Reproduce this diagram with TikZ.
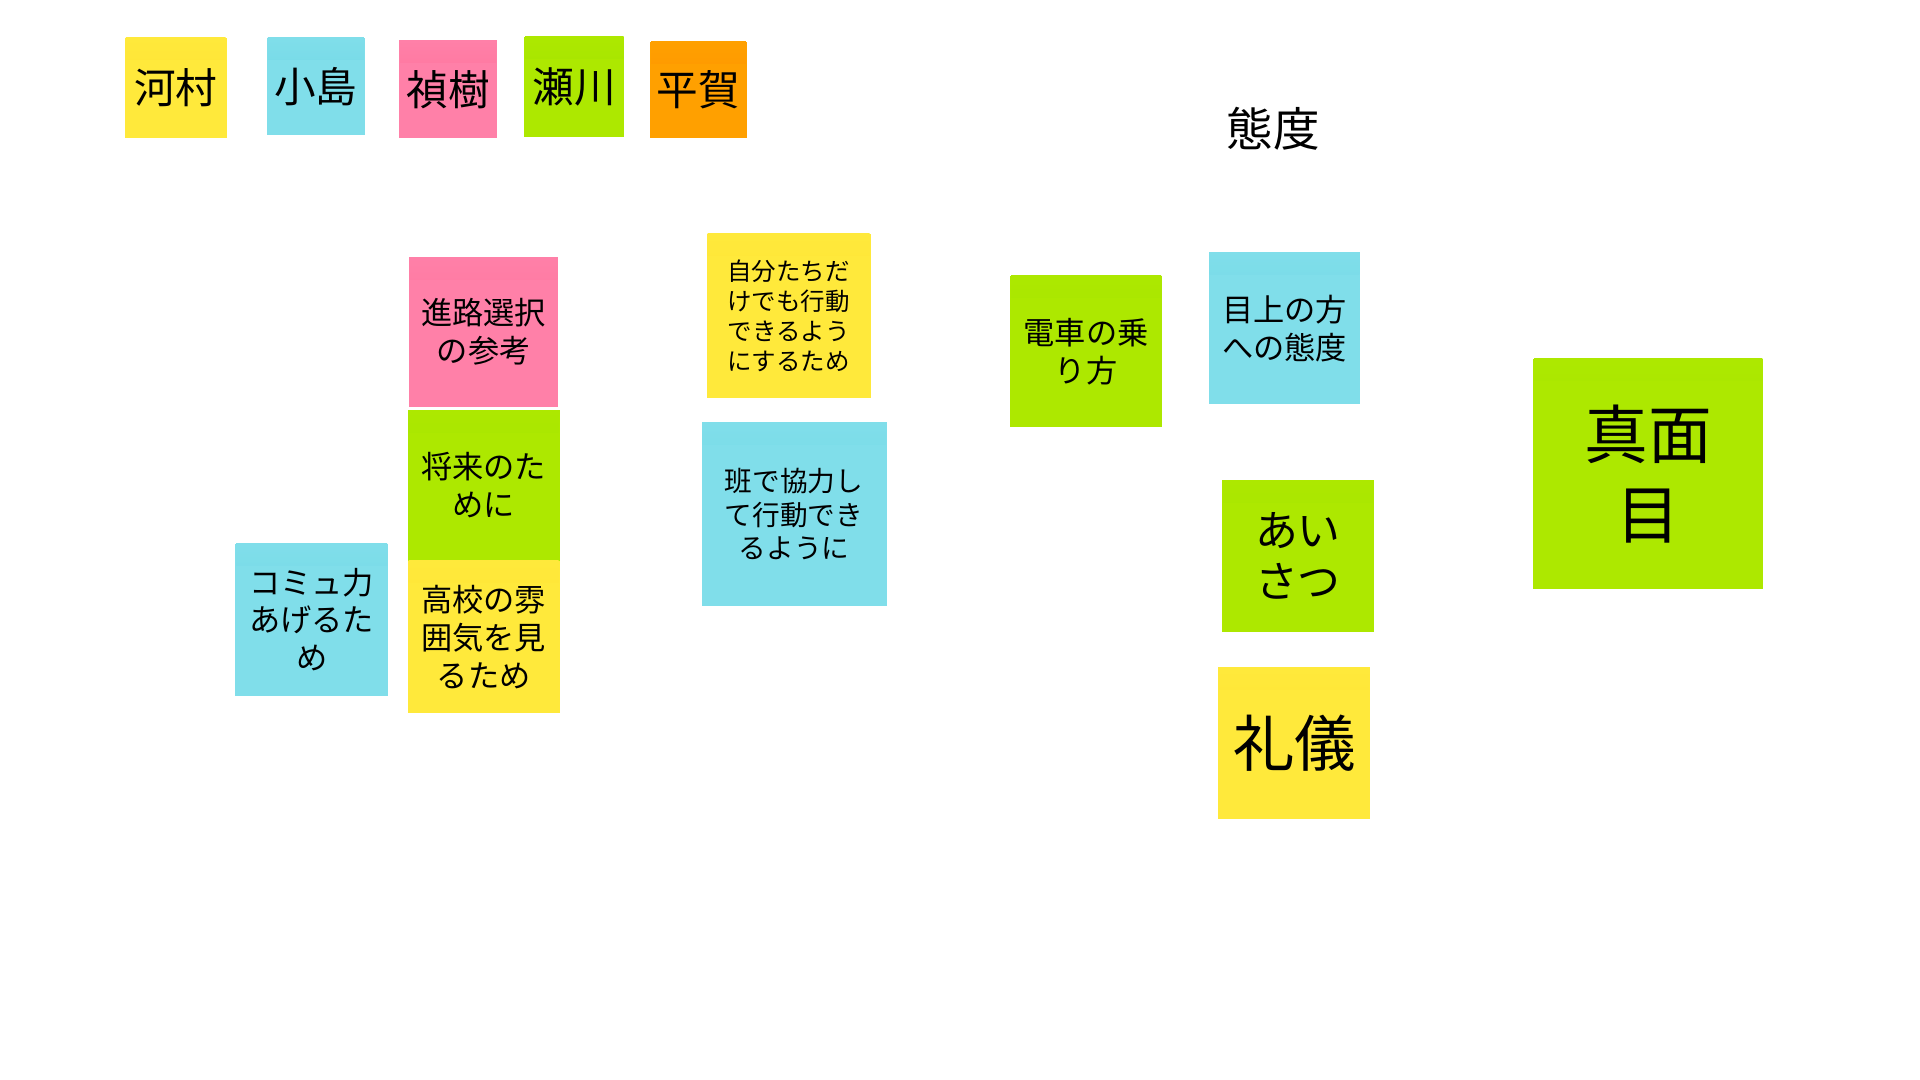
\documentclass[tikz,border=0pt]{standalone}
\usepackage{fontspec}
\setmainfont{Noto Sans CJK JP}
\definecolor{ylw}{HTML}{FFE93B}
\definecolor{ylwtop}{HTML}{FFDD2E}
\definecolor{cyn}{HTML}{80DEEA}
\definecolor{cyntop}{HTML}{62D2E2}
\definecolor{pnk}{HTML}{FF80A8}
\definecolor{pnktop}{HTML}{FF6690}
\definecolor{grn}{HTML}{ADE800}
\definecolor{grntop}{HTML}{9BE000}
\definecolor{orn}{HTML}{FFA000}
\definecolor{orntop}{HTML}{FF8A00}
\newcommand{\fsz}[2]{\fontsize{#1}{#2}\selectfont}
\begin{document}
\begin{tikzpicture}[x=1pt,y=-1pt,
    note/.style 2 args={rectangle,inner sep=0pt,align=center,fill=#1,
      path picture={\shade[top color=#1,bottom color=#2]
        ([xshift=0.8pt]path picture bounding box.north west)
        rectangle ([xshift=-0.8pt,yshift=-18pt]path picture bounding box.north east);}},
    ylwnote/.style={note={ylw}{ylwtop}},
    cynnote/.style={note={cyn}{cyntop}},
    pnknote/.style={note={pnk}{pnktop}},
    grnnote/.style={note={grn}{grntop}},
    ornnote/.style={note={orn}{orntop}}]
  \useasboundingbox[fill=white] (0,0) rectangle (1568,882);
  % names
  \begin{scope}[every node/.append style={font=\fsz{34pt}{40pt}}]
    \node[ylwnote,minimum width=83pt,minimum height=82pt] (kawamura) at (143.5,72) {河村};
    \node[cynnote,minimum width=80pt,minimum height=79pt] (kojima) at (258,70.5) {小島};
    \node[pnknote,minimum width=80pt,minimum height=80pt] (yoshiki) at (366,73) {禎樹};
    \node[grnnote,minimum width=82pt,minimum height=82pt] (segawa) at (469,71) {瀬川};
    \node[ornnote,minimum width=79pt,minimum height=79pt] (hiraga) at (570.5,73.5) {平賀};
  \end{scope}
  \node[font=\fsz{38pt}{44pt}] (taido) at (1040,105) {態度};
  % reasons
  \begin{scope}[every node/.append style={font=\fsz{25.5pt}{31pt},
      minimum width=124pt,minimum height=124pt}]
    \node[pnknote,minimum width=122pt,minimum height=122pt] (shinro) at (395,271) {進路選択\\の参考};
    \node[grnnote,minimum height=123pt] (shorai) at (395,396.5) {将来のた\\めに};
    \node[ylwnote] (koko) at (395,520) {高校の雰\\囲気を見\\るため};
    \node[cynnote,minimum width=125pt] (komyu) at (254.5,506) {コミュ力\\あげるた\\め};
    \node[grnnote] (densha) at (887,287) {電車の乗\\り方};
    \node[cynnote] (meue) at (1049,268) {目上の方\\への態度};
  \end{scope}
  \node[ylwnote,minimum width=134pt,minimum height=134pt,font=\fsz{20pt}{24.7pt}]
    (jibun) at (644,258) {自分たちだ\\けでも行動\\できるよう\\にするため};
  \node[cynnote,minimum width=151pt,minimum height=150pt,font=\fsz{22.6pt}{27.5pt}]
    (han) at (648.5,420) {班で協力し\\て行動でき\\るように};
  % attitude
  \node[grnnote,minimum width=188pt,minimum height=188pt,font=\fsz{52pt}{65pt}]
    (majime) at (1346,387) {真面\\目};
  \node[grnnote,minimum width=124pt,minimum height=124pt,font=\fsz{35pt}{42pt}]
    (aisatsu) at (1060,454) {あい\\さつ};
  \node[ylwnote,minimum width=124pt,minimum height=124pt,font=\fsz{50pt}{60pt}]
    (reigi) at (1057,607) {礼儀};
\end{tikzpicture}
\end{document}
